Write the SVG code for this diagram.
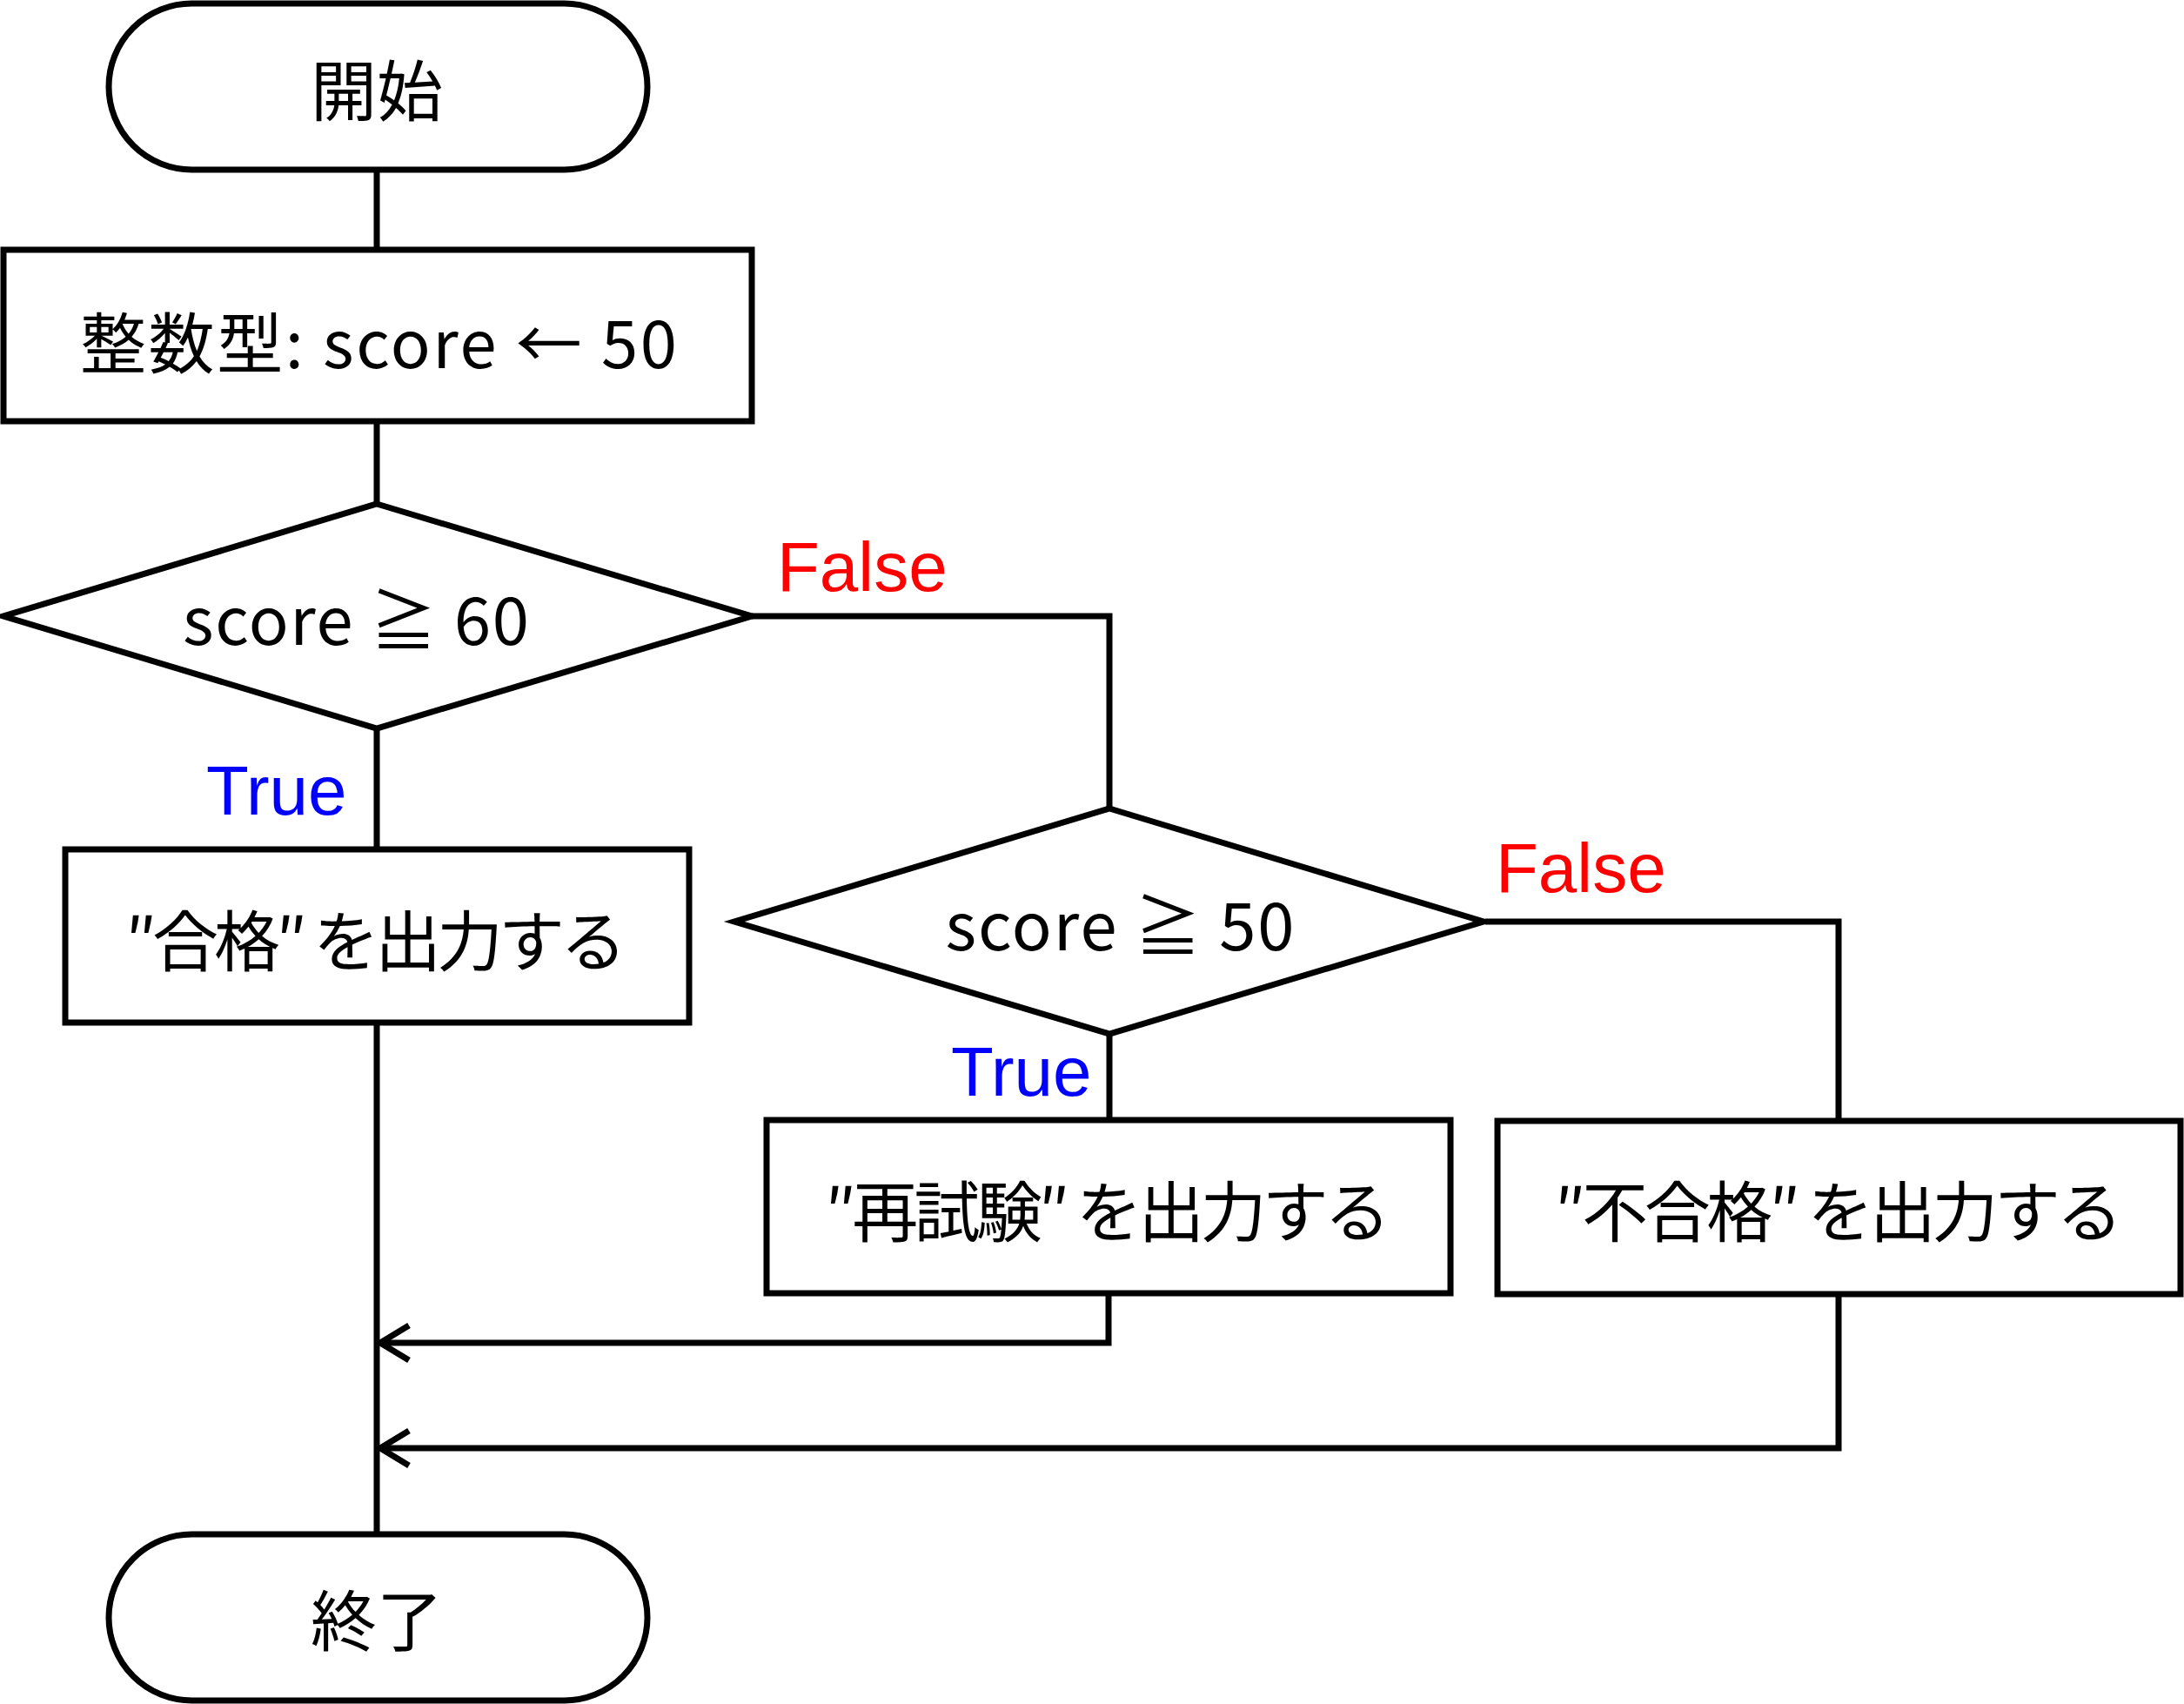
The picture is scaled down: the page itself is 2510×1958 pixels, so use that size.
<svg xmlns="http://www.w3.org/2000/svg" width="2510" height="1958" viewBox="0 0 2510 1958">
<style>
.shape{fill:#fff;stroke:#000;stroke-width:7;stroke-linejoin:miter}
.conn{fill:none;stroke:#000;stroke-width:7}
.t{font-family:"Noto Sans CJK JP","Noto Sans",sans-serif;font-size:76px;fill:#000;text-anchor:middle;dominant-baseline:central}
.lbl{font-family:"Liberation Sans",Arial,sans-serif;font-size:80px}
.f{fill:#ff0000}
.tr{fill:#0000ff}
</style>
<defs>
<marker id="arr" markerUnits="userSpaceOnUse" markerWidth="60" markerHeight="60" viewBox="-45 -30 60 60" refX="0" refY="0" orient="auto" overflow="visible">
<path d="M-33,-20 L0,0 L-33,20" fill="none" stroke="#000" stroke-width="7"/>
</marker>
</defs>
<rect width="2510" height="1958" fill="#fff"/>
<g id="connectors">
<line class="conn" x1="433" y1="195" x2="433" y2="287"/>
<line class="conn" x1="433" y1="484" x2="433" y2="579"/>
<line class="conn" x1="433" y1="837" x2="433" y2="976"/>
<line class="conn" x1="433" y1="1175" x2="433" y2="1763"/>
<polyline class="conn" points="864,708 1275,708 1275,929"/>
<line class="conn" x1="1275" y1="1188" x2="1275" y2="1287"/>
<polyline class="conn" points="1707,1059 2113,1059 2113,1288"/>
<polyline class="conn" points="1274,1487 1274,1543 437,1543" marker-end="url(#arr)"/>
<polyline class="conn" points="2113,1487 2113,1664 437,1664" marker-end="url(#arr)"/>
<text class="lbl f" x="893" y="679">False</text>
<text class="lbl tr" x="237" y="936">True</text>
<text class="lbl f" x="1719" y="1025">False</text>
<text class="lbl tr" x="1093" y="1259">True</text>
</g>
<g id="start">
<rect class="shape" x="125" y="4" width="619" height="191" rx="95.5" ry="95.5"/>
<text class="t" x="433" y="100">開始</text>
</g>
<g id="init">
<rect class="shape" x="4" y="287" width="860" height="197"/>
<text class="t" x="435" y="390" textLength="686" lengthAdjust="spacing">整数型: score ← 50</text>
</g>
<g id="cond1">
<polygon class="shape" points="433,579 864,708 433,837 4,708"/>
<text class="t" x="409" y="708" textLength="398" lengthAdjust="spacing">score ≧ 60</text>
</g>
<g id="pass">
<rect class="shape" x="75" y="976" width="717" height="199"/>
<text class="t" x="432" y="1077" textLength="576" lengthAdjust="spacing">″合格″ を出力する</text>
</g>
<g id="cond2">
<polygon class="shape" points="1275,929 1705,1059 1275,1188 844,1059"/>
<text class="t" x="1287" y="1059" textLength="401" lengthAdjust="spacing">score ≧ 50</text>
</g>
<g id="retest">
<rect class="shape" x="881" y="1287" width="786" height="199"/>
<text class="t" x="1273" y="1388" textLength="650" lengthAdjust="spacing">″再試験″ を出力する</text>
</g>
<g id="fail">
<rect class="shape" x="1721" y="1288" width="785" height="199"/>
<text class="t" x="2113" y="1388" textLength="653" lengthAdjust="spacing">″不合格″ を出力する</text>
</g>
<g id="end">
<rect class="shape" x="125" y="1763" width="619" height="191" rx="95.5" ry="95.5"/>
<text class="t" x="433" y="1858">終了</text>
</g>
</svg>
